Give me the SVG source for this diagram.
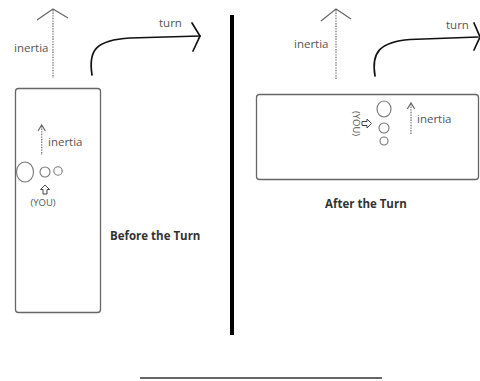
<svg xmlns="http://www.w3.org/2000/svg" width="480" height="381" viewBox="0 0 480 381">
<style>
.lbl{font-family:"Open Sans","Noto Sans",sans-serif;font-size:11.5px;fill:#555}
.ttl{font-family:"Open Sans","Noto Sans",sans-serif;font-size:11.5px;font-weight:bold;fill:#333}
.you{font-family:"Open Sans","Noto Sans",sans-serif;font-size:9.5px;fill:#555}
.box{fill:#fff;stroke:#666;stroke-width:1.3}
.ball{fill:none;stroke:#777;stroke-width:1.1}
.dot{fill:none;stroke:#777;stroke-width:1.3;stroke-dasharray:1.4,1.2}
.head{fill:none;stroke:#666;stroke-width:1.2}
.turn{fill:none;stroke:#111;stroke-width:1.7;stroke-linecap:round}
.hollow{fill:#fff;stroke:#444;stroke-width:1}
</style>
<rect width="480" height="381" fill="#fff"/>

<g id="divider">
<line x1="232" y1="15" x2="232" y2="335" stroke="#000" stroke-width="4"/>
<line x1="140" y1="378" x2="382" y2="378" stroke="#333" stroke-width="1.5"/>
</g>

<g id="before-car">
<rect class="box" x="15.5" y="88.5" width="85" height="224" rx="3"/>
<ellipse class="ball" cx="25" cy="172" rx="8.5" ry="10"/>
<circle class="ball" cx="45" cy="172" r="5"/>
<circle class="ball" cx="58" cy="171" r="4.2"/>
<polygon class="hollow" points="45,185 49.5,189.5 47,189.5 47,194 43,194 43,189.5 40.5,189.5"/>
<text class="you" x="43" y="206" text-anchor="middle">(YOU)</text>
<text class="lbl" x="48" y="146">inertia</text>
</g>

<g id="after-car">
<rect class="box" x="256.5" y="94.5" width="222" height="85" rx="3"/>
<ellipse class="ball" cx="384" cy="109" rx="7" ry="8"/>
<circle class="ball" cx="384" cy="128" r="5"/>
<circle class="ball" cx="384" cy="141" r="4"/>
<polygon class="hollow" points="371.5,123.5 367,119 367,121.5 362,121.5 362,125.5 367,125.5 367,128"/>
<text class="you" x="356" y="123.5" text-anchor="middle" dominant-baseline="central" transform="rotate(90 356 123.5)">(YOU)</text>
<text class="lbl" x="417" y="123">inertia</text>
</g>

<g id="labels">
<text class="lbl" x="14" y="52">inertia</text>
<text class="lbl" x="159" y="27">turn</text>
<text class="lbl" x="294" y="48">inertia</text>
<text class="lbl" x="446" y="29">turn</text>
<text class="ttl" x="110" y="240">Before the Turn</text>
<text class="ttl" x="325" y="208">After the Turn</text>
</g>

<g id="connectors">
<line class="dot" x1="53" y1="10" x2="53" y2="78"/>
<polyline class="head" points="37,20 53,9 68,18"/>
<line class="dot" x1="336" y1="10" x2="336" y2="79"/>
<polyline class="head" points="321,21 336,9 351,19"/>
<line class="dot" x1="41.7" y1="126" x2="41.7" y2="155"/>
<polyline class="head" points="38,131 41.7,125 45.4,131"/>
<line class="dot" x1="411" y1="104" x2="411" y2="134"/>
<polyline class="head" points="407.3,109 411,103 414.7,109"/>
<path class="turn" d="M92,75 C88,50 96,40 130,38 L200,36"/>
<polyline class="turn" points="192,23 200,36 193,51" stroke-width="1.3"/>
<path class="turn" d="M375,76 C371,52 380,42 410,39.5 L478,37"/>
<polyline class="turn" points="474,23 480,37 474,50" stroke-width="1.3"/>
</g>
</svg>
